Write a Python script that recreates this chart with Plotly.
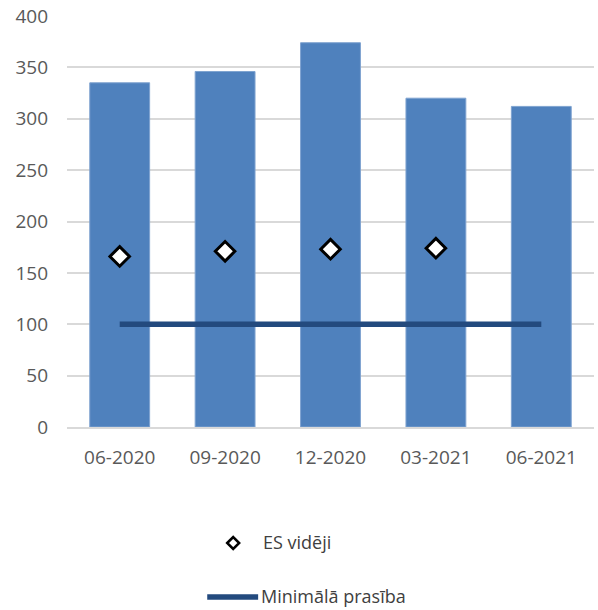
import plotly.graph_objects as go

# Quarterly periods
periods = ["06-2020", "09-2020", "12-2020", "03-2021", "06-2021"]
# Bank indicator (bars)
bank_values = [335, 346, 374, 320, 312]
# EU average (diamond markers); no value for the last period
eu_average = [166, 171, 173, 174, None]
# Minimum requirement (flat line)
min_requirement = [100, 100, 100, 100, 100]

y_ticks = [0, 50, 100, 150, 200, 250, 300, 350, 400]

BAR_COLOR = "#4F81BD"
LINE_COLOR = "#234A7E"
TEXT_COLOR = "#595959"
FONT = "Open Sans"

fig = go.Figure()

fig.add_trace(go.Bar(
    x=periods, y=bank_values,
    marker=dict(color=BAR_COLOR, line=dict(color="#7FA3D0", width=1)),
    showlegend=False, hoverinfo="x+y",
))

fig.add_trace(go.Scatter(
    x=periods, y=min_requirement, mode="lines",
    line=dict(color=LINE_COLOR, width=5.5),
    name="Minimālā prasība", showlegend=False,
))

fig.add_trace(go.Scatter(
    x=periods, y=eu_average, mode="markers",
    marker=dict(symbol="diamond", size=15, color="white",
                line=dict(color="black", width=3)),
    name="ES vidēji", showlegend=False,
))

# Hand-built legend below the plot
legend_font = dict(family=FONT, size=18, color="#404040")
# diamond symbol
fig.add_shape(
    type="path", xref="paper", yref="paper",
    xsizemode="pixel", ysizemode="pixel",
    xanchor=(233 - 66.5) / 528, yanchor=(427 - 543) / 411,
    path="M -6,0 L 0,6 L 6,0 L 0,-6 Z",
    fillcolor="white", line=dict(color="black", width=2.5),
)
fig.add_annotation(
    xref="paper", yref="paper",
    x=(261 - 66.5) / 528, y=(427 - 542) / 411,
    text="ES vidēji", showarrow=False, xanchor="left", yanchor="middle",
    font=legend_font,
)
# line symbol
fig.add_shape(
    type="line", xref="paper", yref="paper",
    x0=(207 - 66.5) / 528, x1=(258 - 66.5) / 528,
    y0=(427 - 597) / 411, y1=(427 - 597) / 411,
    line=dict(color=LINE_COLOR, width=5.5),
)
fig.add_annotation(
    xref="paper", yref="paper",
    x=(259 - 66.5) / 528, y=(427 - 596) / 411,
    text="Minimālā prasība", showarrow=False, xanchor="left", yanchor="middle",
    font=legend_font,
)

fig.update_layout(
    width=598, height=610,
    margin=dict(l=66.5, r=3.5, t=16, b=183),
    plot_bgcolor="white", paper_bgcolor="white",
    bargap=0.432,
    font=dict(family=FONT, size=19, color=TEXT_COLOR),
)
fig.update_xaxes(
    showgrid=False, showline=True, linecolor="#D9D9D9", linewidth=1.5,
    ticks="", ticklabelstandoff=12, tickfont=dict(size=19, color=TEXT_COLOR),
)
fig.update_yaxes(
    range=[0, 400], tickvals=y_ticks, showgrid=True, gridcolor="#D9D9D9",
    gridwidth=1.5, zeroline=False, showline=False, ticks="",
    ticklabelstandoff=18, tickfont=dict(size=19, color=TEXT_COLOR),
)

fig.write_html("out.html")
